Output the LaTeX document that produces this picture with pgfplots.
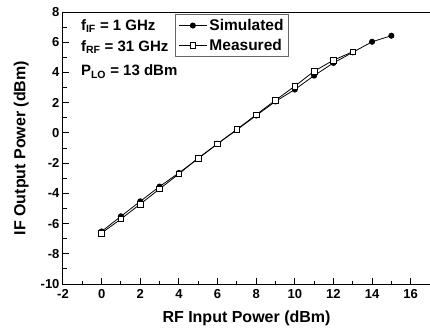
\documentclass[border=0pt]{standalone}
\usepackage{pgfplots}
\pgfplotsset{compat=1.18}
\usepackage{fontspec}
\setmainfont{Liberation Sans}
\begin{document}
\begin{tikzpicture}
\begin{axis}[
  scale only axis, width=367pt, height=272pt,
  xmin=-2, xmax=17, ymin=-10, ymax=8,
  xtick={-2,0,...,16}, ytick={-10,-8,...,8},
  minor xtick={-1,1,...,17}, minor ytick={-9,-7,...,7},
  tick align=inside, tick pos=left,
  major tick length=6pt, minor tick length=3.5pt,
  every tick/.style={black, line width=1pt},
  axis line style={line width=1pt},
  /pgf/number format/assume math mode=true,
  ticklabel style={font=\fontsize{13}{15}\selectfont\bfseries},
  xticklabel style={yshift=-2pt},
  xlabel={\textbf{RF Input Power (dBm)}},
  ylabel={\textbf{IF Output Power (dBm)}},
  label style={font=\fontsize{16}{18}\selectfont},
  xlabel style={yshift=-5pt},
  ylabel style={yshift=5pt},
  legend style={at={(axis cs:3.8,7.87)}, anchor=north west, draw=black!60,
    font=\fontsize{15.5}{17}\selectfont\bfseries, inner xsep=3pt, inner ysep=3pt, row sep=3pt, cells={anchor=west}},
  legend cell align=left,
  legend image code/.code={\draw[#1, mark repeat=2, mark phase=2] plot coordinates {(0cm,0cm) (0.5cm,0cm) (1cm,0cm)};},
  clip=false,
]
\addplot[black, line width=0.8pt, mark=*, mark size=2.6pt] coordinates {
(0,-6.52) (1,-5.52) (2,-4.53) (3,-3.55) (4,-2.65) (5,-1.7) (6,-0.72) (7,0.2)
(8,1.15) (9,2.08) (10,2.87) (11,3.79) (12,4.63) (13,5.33) (14,6.03) (15,6.43)};
\addlegendentry{Simulated}
\addplot[black, line width=0.8pt, mark=square*, mark options={fill=white, line width=0.7pt}, mark size=2.8pt] coordinates {
(0,-6.63) (1,-5.7) (2,-4.71) (3,-3.71) (4,-2.71) (5,-1.67) (6,-0.72) (7,0.23)
(8,1.2) (9,2.16) (10,3.09) (11,4.08) (12,4.81) (13,5.37)};
\addlegendentry{Measured}
\node[anchor=west, font=\fontsize{15}{17}\selectfont\bfseries] at (axis cs:-1.25,7.05) {f\textsubscript{IF} = 1 GHz};
\node[anchor=west, font=\fontsize{15}{17}\selectfont\bfseries] at (axis cs:-1.25,5.7) {f\textsubscript{RF} = 31 GHz};
\node[anchor=west, font=\fontsize{15}{17}\selectfont\bfseries] at (axis cs:-1.25,4.05) {P\textsubscript{LO} = 13 dBm};
\end{axis}
\pgfresetboundingbox
\path (-63pt,-51pt) rectangle (367pt,284pt);
\end{tikzpicture}
\end{document}
